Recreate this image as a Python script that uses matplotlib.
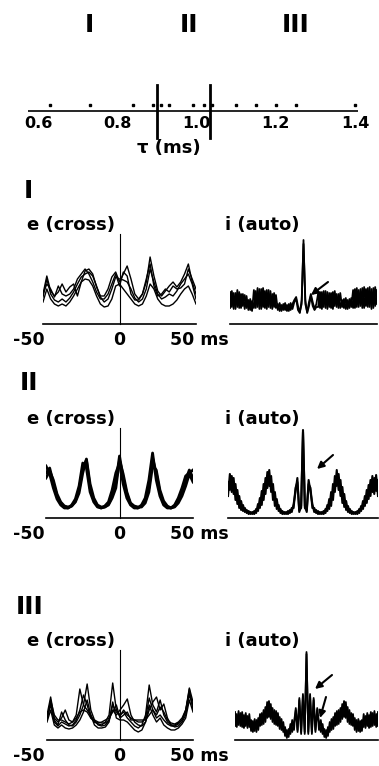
import numpy as np
import matplotlib
matplotlib.use('Agg')
import matplotlib.pyplot as plt

# --- data ---
tau_ticks = [0.6, 0.8, 1.0, 1.2, 1.4]
tau_points = [0.63, 0.73, 0.84, 0.89, 0.91, 0.93, 0.99, 1.02, 1.04, 1.10, 1.15, 1.20, 1.25, 1.40]
tau_bounds = [0.90, 1.035]
regimes = ['I', 'II', 'III']
regime_centers = [0.73, 0.98, 1.25]

lag_cross = np.linspace(-50, 50, 41)   # 2.5 ms bins
lag_auto = np.linspace(-50, 50, 81)    # 1.25 ms bins

cross_I = [
    [30, 48, 33, 28, 32, 40, 32, 37, 40, 28, 42, 53, 55, 50, 37, 28, 28, 35, 47, 52, 42,
     50, 58, 45, 30, 25, 30, 42, 67, 48, 33, 28, 33, 38, 42, 37, 42, 50, 60, 42, 30],
    [27, 45, 30, 24, 22, 25, 22, 26, 32, 40, 47, 50, 52, 48, 38, 27, 22, 25, 35, 47, 45,
     44, 42, 35, 26, 22, 25, 35, 55, 42, 30, 25, 27, 30, 28, 33, 40, 45, 50, 40, 25],
    [22, 35, 25, 20, 18, 20, 18, 22, 28, 35, 42, 45, 44, 38, 28, 20, 17, 18, 25, 38, 40,
     35, 30, 25, 20, 18, 20, 28, 40, 35, 25, 20, 18, 18, 20, 24, 30, 35, 38, 30, 20],
    [30, 40, 35, 27, 38, 30, 28, 30, 35, 45, 50, 55, 50, 42, 32, 25, 25, 30, 40, 50, 38,
     52, 48, 30, 24, 24, 30, 45, 60, 38, 28, 30, 35, 32, 38, 35, 36, 40, 55, 45, 35],
]

cross_II = [
    [45, 50, 35, 22, 15, 11, 10, 12, 17, 28, 50, 58, 30, 18, 12, 10, 11, 14, 22, 35, 62,
     40, 24, 14, 11, 10, 12, 17, 30, 60, 45, 25, 15, 11, 10, 12, 18, 26, 38, 48, 40],
    [52, 44, 30, 19, 13, 10, 10, 13, 19, 32, 55, 50, 26, 16, 11, 10, 12, 16, 28, 45, 55,
     34, 20, 13, 10, 10, 13, 20, 38, 65, 38, 22, 13, 10, 10, 13, 20, 30, 42, 45, 48],
    [40, 47, 38, 24, 16, 12, 11, 12, 16, 25, 45, 59, 34, 20, 13, 11, 11, 13, 20, 30, 58,
     44, 26, 15, 12, 11, 11, 15, 26, 52, 48, 28, 17, 12, 10, 11, 15, 22, 32, 44, 36],
]

cross_III = [
    [25, 43, 22, 18, 22, 30, 20, 18, 25, 51, 35, 30, 25, 18, 16, 15, 18, 25, 57, 30, 25,
     28, 22, 18, 14, 12, 15, 25, 55, 35, 28, 40, 25, 18, 15, 15, 17, 20, 28, 51, 30],
    [20, 38, 20, 15, 28, 20, 15, 14, 18, 25, 35, 56, 30, 20, 15, 14, 15, 20, 30, 25, 30,
     35, 41, 25, 18, 15, 14, 18, 30, 38, 43, 30, 36, 22, 15, 13, 14, 18, 25, 45, 35],
    [18, 30, 15, 12, 15, 12, 11, 12, 15, 20, 28, 40, 25, 15, 12, 12, 13, 18, 38, 22, 20,
     20, 18, 14, 10, 8, 10, 18, 35, 25, 18, 22, 15, 12, 10, 10, 12, 16, 22, 40, 28],
    [22, 35, 18, 14, 18, 16, 14, 15, 20, 30, 45, 35, 22, 18, 17, 18, 20, 22, 28, 35, 22,
     25, 28, 20, 20, 20, 20, 20, 25, 30, 22, 25, 20, 16, 14, 14, 16, 20, 30, 48, 32],
    [20, 40, 25, 20, 20, 18, 16, 18, 22, 28, 30, 28, 22, 20, 18, 17, 17, 20, 35, 28, 24,
     30, 25, 22, 20, 18, 18, 22, 42, 30, 25, 33, 28, 20, 17, 16, 18, 22, 30, 52, 38],
]

auto_I = [
    [32, 17, 31, 15, 34, 16, 30, 18, 29, 16,
     24, 14, 23,
     16, 33, 17, 35, 15, 36, 16, 34, 17, 33, 15, 31, 16,
     20, 13, 19, 14, 21, 13, 20, 14,
     20, 24, 27, 18, 12, 20, 84, 20, 12, 22, 30, 22, 15, 20,
     31, 16, 32, 17, 33, 15, 31, 16, 32, 18, 30, 16, 31,
     17, 25, 15, 24, 16, 26,
     16, 35, 17, 34, 18, 36, 16, 35, 17, 37, 15, 36, 18, 34],
    [16, 33, 15, 31, 17, 32, 16, 30, 15, 28,
     14, 25, 13,
     34, 16, 36, 15, 35, 17, 33, 15, 34, 16, 30, 17, 29,
     14, 21, 13, 20, 14, 19, 13, 21,
     15, 22, 25, 14, 11, 24, 80, 24, 11, 18, 28, 18, 14, 17,
     17, 32, 15, 33, 16, 32, 17, 31, 15, 33, 17, 30, 16,
     24, 16, 26, 15, 25, 17,
     34, 16, 36, 17, 35, 16, 37, 18, 36, 17, 35, 16, 37, 20],
]

auto_II = [
    [36, 28, 42, 24, 34, 14, 22, 8, 13, 6, 8, 4, 6, 4, 7, 5, 14, 10, 27, 18,
     40, 30, 48, 26, 34, 12, 19, 7, 9, 4, 6, 4, 7, 5, 10,
     10, 30, 36, 8, 10, 88, 10, 8, 34, 30, 10,
     10, 5, 7, 4, 6, 4, 9, 7, 19, 12, 34, 26, 48, 28, 38, 15, 24, 8, 12, 5,
     7, 4, 6, 4, 9, 7, 17, 12, 28, 19, 38, 26, 40, 27, 38],
    [22, 44, 26, 40, 18, 28, 10, 17, 7, 10, 5, 7, 4, 6, 4, 9, 7, 20, 13, 34,
     24, 46, 32, 42, 18, 26, 9, 13, 5, 7, 4, 6, 4, 8, 6,
     14, 26, 40, 6, 12, 86, 12, 6, 38, 26, 14,
     6, 8, 4, 6, 4, 7, 5, 13, 9, 26, 18, 42, 32, 44, 22, 31, 11, 17, 6, 9,
     4, 6, 4, 7, 5, 12, 9, 22, 15, 33, 22, 42, 24, 43, 22],
]

auto_III = [
    [28, 13, 29, 14, 28, 12, 27, 12, 26, 9, 19, 9, 20, 10, 26, 15, 30, 18, 38, 23,
     36, 18, 30, 15, 27, 11, 21, 8, 13, 2, 11, 6, 20, 10,
     32, 8, 42, 6, 46, 6, 88, 6, 46, 6, 42, 8, 32,
     10, 20, 6, 11, 2, 13, 8, 21, 11, 27, 15, 30, 18, 36, 23, 38, 18, 30, 15, 26,
     10, 20, 9, 19, 9, 26, 12, 27, 12, 28, 14, 29, 13, 28],
    [14, 26, 15, 27, 13, 25, 14, 24, 13, 20, 8, 21, 8, 22, 14, 27, 16, 33, 22, 39,
     21, 32, 16, 29, 14, 23, 10, 18, 4, 10, 3, 16, 8, 18,
     30, 10, 40, 8, 44, 8, 86, 8, 44, 8, 40, 10, 30,
     18, 8, 16, 3, 10, 4, 18, 10, 23, 14, 29, 16, 32, 21, 39, 22, 33, 16, 27, 14,
     22, 8, 21, 8, 20, 13, 24, 14, 25, 13, 27, 15, 26, 14],
]

# --- layout (pixel based) ---
W, H = 379, 766
fig = plt.figure(figsize=(W / 100, H / 100), dpi=100)
FONT = 'DejaVu Sans'


def fx(x):
    return x / W


def fy(y):
    return 1 - y / H


def label(x, y, s, size, ha='center'):
    fig.text(fx(x), fy(y), s, ha=ha, va='center', fontsize=size,
             fontweight='bold', family=FONT, color='black')


# tau axis
tx0, tx1, tbot, ttop = 28, 358, 140, 80
scale = (355 - 38) / 0.8
ax_t = fig.add_axes([fx(tx0), fy(tbot), (tx1 - tx0) / W, (tbot - ttop) / H])
ax_t.set_xlim(0.6 - (38 - tx0) / scale, 1.4 + (tx1 - 355) / scale)
ax_t.set_ylim(0, tbot - ttop)
ax_t.axis('off')
ax_t.axhline(tbot - 111, color='black', lw=1.2)
ax_t.plot(tau_points, [tbot - 105] * len(tau_points), 's', color='black', ms=1.8)
for b in tau_bounds:
    ax_t.plot([b, b], [tbot - 138, tbot - 85], color='black', lw=2.0)
for t in tau_ticks:
    ax_t.text(t, tbot - 124, f'{t:.1f}', ha='center', va='center', fontsize=11.5,
              fontweight='bold', family=FONT)
ax_t.text(0.93, tbot - 148, 'τ (ms)', ha='center', va='center', fontsize=13,
          fontweight='bold', family=FONT)
for name, c in zip(regimes, regime_centers):
    ax_t.text(c, tbot - 25, name, ha='center', va='center', fontsize=18,
              fontweight='heavy', family=FONT, clip_on=False)


def panel(x0, x1, base, lags, traces, lw, zero_top=None):
    ax = fig.add_axes([fx(x0), fy(base + 4), (x1 - x0) / W, 104 / H])
    ax.set_xlim(-50, 50)
    ax.set_ylim(-4, 100)
    ax.axis('off')
    for tr in traces:
        ax.plot(lags, tr, color='black', lw=lw)
    ax.plot([-50, 50], [0, 0], color='black', lw=1.2, clip_on=False)
    if zero_top is not None:
        ax.plot([0, 0], [0, zero_top], color='black', lw=0.8, clip_on=False)
    return ax


def arrow(ax, tail, head):
    ax.annotate('', xy=(fx(head[0]), fy(head[1])), xytext=(fx(tail[0]), fy(tail[1])),
                xycoords='figure fraction', textcoords='figure fraction',
                annotation_clip=False,
                arrowprops=dict(arrowstyle='-|>', color='black', lw=1.5,
                                mutation_scale=10, shrinkA=0, shrinkB=0))


rows = [
    # section, label_y, title_x, base, cross, auto, cross_x, auto_x, lw_cross, lw_auto
    ('I', 191, 24, 324, cross_I, auto_I, (43, 196), (230, 377), 1.0, 1.3),
    ('II', 383, 20, 518, cross_II, auto_II, (46, 193), (228, 378), 2.0, 1.5),
    ('III', 607, 16, 740, cross_III, auto_III, (47, 193), (235, 378), 1.0, 1.3),
]

axes = []
for sec, sy, sx, base, cr, au, cx, axx, lwc, lwa in rows:
    label(sx, sy, sec, 18, ha='left')
    label(27, base - 99, 'e (cross)', 13, ha='left')
    label(225, base - 99, 'i (auto)', 13, ha='left')
    panel(cx[0], cx[1], base, lag_cross, cr, lwc, zero_top=90)
    a = panel(axx[0], axx[1], base, lag_auto, au, lwa)
    axes.append(a)
    label(29, base + 16, '-50', 12.5)
    label(119, base + 16, '0', 12.5)
    label(170, base + 16, '50 ms', 12.5, ha='left')

arrow(axes[0], (328, 282), (311, 295))
arrow(axes[1], (333, 455), (317, 469))
arrow(axes[2], (332, 675), (315, 689))
arrow(axes[2], (326, 697), (320, 718))

fig.savefig('out.png', dpi=100)
plt.close(fig)
